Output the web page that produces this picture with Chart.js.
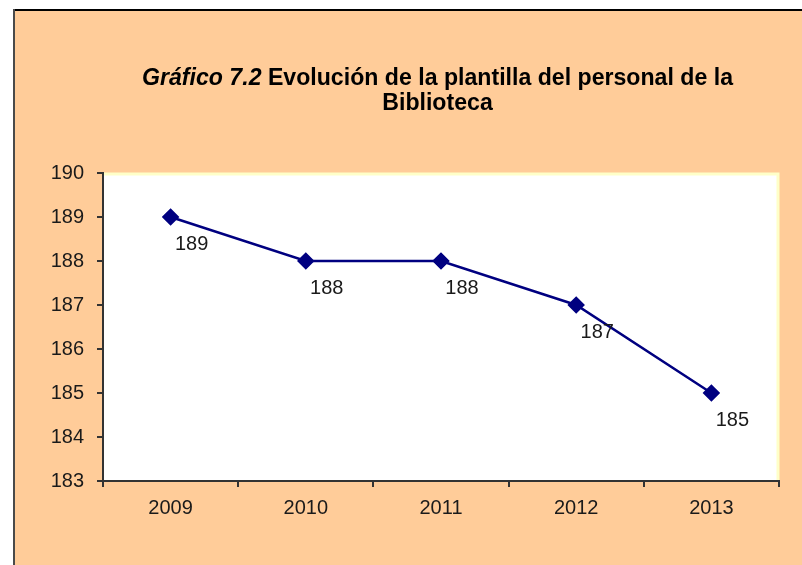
<!DOCTYPE html>
<html><head><meta charset="utf-8">
<script src="https://cdn.jsdelivr.net/npm/chart.js@4"></script>
<style>html,body{margin:0;padding:0;background:#fff}#wrap{width:802px;height:565px;position:relative}</style>
</head><body><div id="wrap"><canvas id="c" width="802" height="565"></canvas></div>
<script>
const years = ['2009','2010','2011','2012','2013'];
const staff = [189, 188, 188, 187, 185];
const yMin = 183, yMax = 190, yStep = 1;
const titleItalic = 'Gráfico 7.2';
const titleRest = ' Evolución de la plantilla del personal de la';
const titleLine2 = 'Biblioteca';

const FONT = "'Liberation Sans', Arial, sans-serif";

const framePlugin = {
  id: 'frame',
  beforeDraw(chart) {
    const ctx = chart.ctx;
    ctx.save();
    ctx.fillStyle = '#ffffff';
    ctx.fillRect(0, 0, chart.width, chart.height);
    ctx.fillStyle = '#FFCC99';
    ctx.fillRect(13, 10, chart.width - 13, chart.height - 10);
    ctx.fillStyle = '#000000';
    ctx.fillRect(13, 9, chart.width - 13, 2);
    ctx.fillStyle = '#4a4a4a';
    ctx.fillRect(13, 9, 2, chart.height - 9);
    const a = chart.chartArea;
    ctx.fillStyle = '#ffffff';
    ctx.fillRect(a.left, a.top, a.right - a.left, a.bottom - a.top);
    ctx.strokeStyle = '#FFFFC8';
    ctx.lineWidth = 3;
    ctx.beginPath();
    ctx.moveTo(a.left, a.top + 1);
    ctx.lineTo(a.right - 1, a.top + 1);
    ctx.lineTo(a.right - 1, a.bottom);
    ctx.stroke();
    // title
    ctx.fillStyle = '#000';
    ctx.textBaseline = 'alphabetic';
    ctx.textAlign = 'left';
    const fItal = 'italic bold 23px ' + FONT;
    const fBold = 'bold 23px ' + FONT;
    ctx.font = fItal;
    const w1 = ctx.measureText(titleItalic).width;
    ctx.font = fBold;
    const w2 = ctx.measureText(titleRest).width;
    const w3 = ctx.measureText(titleLine2).width;
    const targetW = 591;
    const sx = targetW / (w1 + w2);
    const cx = 437.5;
    ctx.save();
    ctx.translate(cx - targetW / 2, 85);
    ctx.scale(sx, 1);
    ctx.font = fItal;
    ctx.fillText(titleItalic, 0, 0);
    ctx.font = fBold;
    ctx.fillText(titleRest, w1, 0);
    ctx.restore();
    ctx.save();
    ctx.translate(cx - (w3 * sx) / 2, 110);
    ctx.scale(sx, 1);
    ctx.font = fBold;
    ctx.fillText(titleLine2, 0, 0);
    ctx.restore();
    ctx.restore();
  }
};

const labelPlugin = {
  id: 'pointLabels',
  afterDatasetsDraw(chart) {
    const ctx = chart.ctx;
    const meta = chart.getDatasetMeta(0);
    ctx.save();
    ctx.font = '20px ' + FONT;
    ctx.fillStyle = '#1a1a1a';
    ctx.textAlign = 'center';
    ctx.textBaseline = 'middle';
    meta.data.forEach((pt, i) => {
      ctx.fillText(String(staff[i]), pt.x + 21, pt.y + 27);
    });
    ctx.restore();
  }
};

new Chart(document.getElementById('c'), {
  type: 'line',
  data: {
    labels: years,
    datasets: [{
      data: staff,
      borderColor: '#000080',
      backgroundColor: '#000080',
      borderWidth: 2.5,
      pointStyle: 'rectRot',
      pointRadius: 7,
      pointHoverRadius: 7,
      tension: 0,
      fill: false
    }]
  },
  options: {
    responsive: false,
    animation: false,
    devicePixelRatio: 1,
    layout: { padding: { top: 173, right: 23, bottom: 0, left: 0 } },
    plugins: { legend: { display: false }, title: { display: false }, tooltip: { enabled: false } },
    scales: {
      x: {
        offset: true,
        grid: { offset: true, drawOnChartArea: false, drawTicks: true, tickLength: 6, color: '#333', lineWidth: 2 },
        border: { display: true, color: '#333', width: 2 },
        ticks: { color: '#1a1a1a', font: { family: FONT, size: 20 }, padding: 9, maxRotation: 0 },
        afterFit(s) { s.height = 84; }
      },
      y: {
        min: yMin, max: yMax,
        grid: { drawOnChartArea: false, drawTicks: true, tickLength: 6, color: '#333', lineWidth: 2 },
        border: { display: true, color: '#333', width: 2 },
        ticks: { stepSize: yStep, color: '#1a1a1a', font: { family: FONT, size: 20 }, padding: 13 },
        afterFit(s) { s.width = 103; }
      }
    }
  },
  plugins: [framePlugin, labelPlugin]
});
</script></body></html>
